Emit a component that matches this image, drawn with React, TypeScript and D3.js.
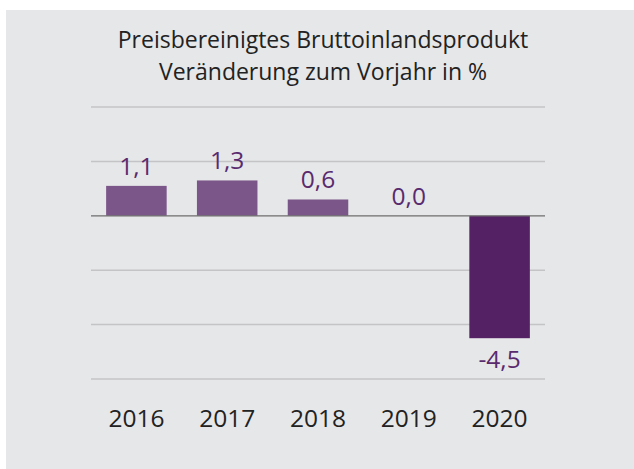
import React from "react";
import { scaleBand, scaleLinear } from "d3";

const years = ["2016", "2017", "2018", "2019", "2020"];
const changes = [1.1, 1.3, 0.6, 0.0, -4.5];
const gridValues = [4, 2, 0, -2, -4, -6];
const titleLines = ["Preisbereinigtes Bruttoinlandsprodukt", "Veränderung zum Vorjahr in %"];

const W = 634;
const H = 469;
const plot = { left: 91, right: 545, top: 107, bottom: 379 };
const font = "'Open Sans', 'Noto Sans', sans-serif";

const fmt = (v: number) => v.toFixed(1).replace(".", ",");

export default function App() {
	const x = scaleBand<string>()
		.domain(years)
		.range([plot.left, plot.right])
		.paddingInner(1 / 3)
		.paddingOuter(1 / 6);

	const y = scaleLinear().domain([-6, 4]).range([plot.bottom, plot.top]);

	return (
		<div style={{ position: "absolute", left: 0, top: 0 }}>
			<svg width={W} height={H} style={{ display: "block" }}>
				<rect x={0} y={0} width={W} height={H} fill="#ffffff" />
				<rect x={6} y={10} width={W - 6} height={H - 10} fill="#e6e7e9" />

				{titleLines.map((line, i) => (
					<text
						key={line}
						x={323}
						y={48 + i * 32}
						textAnchor="middle"
						fontFamily={font}
						fontSize={23}
						fill="#222222"
					>
						{line}
					</text>
				))}

				{gridValues.filter((v) => v !== 0).map((v) => (
					<line
						key={v}
						x1={plot.left}
						x2={plot.right}
						y1={y(v)}
						y2={y(v)}
						stroke="#c4c4c6"
						strokeWidth={1.5}
					/>
				))}

				{years.map((yr, i) => {
					const v = changes[i];
					const top = y(Math.max(0, v));
					const h = Math.abs(y(v) - y(0));
					const fill = v < 0 ? "#542264" : "#7b5689";
					const labelY = v < 0 ? y(v) + 30 : y(v) - 11;
					return (
						<g key={yr}>
							{h > 0 && (
								<rect x={x(yr)} y={top} width={x.bandwidth()} height={h} fill={fill} />
							)}
							<text
								x={(x(yr) ?? 0) + x.bandwidth() / 2}
								y={labelY}
								textAnchor="middle"
								fontFamily={font}
								fontSize={24.5}
								fill="#5a2a6e"
							>
								{fmt(v)}
							</text>
							<text
								x={(x(yr) ?? 0) + x.bandwidth() / 2}
								y={427}
								textAnchor="middle"
								fontFamily={font}
								fontSize={24.5}
								fill="#222222"
							>
								{yr}
							</text>
						</g>
					);
				})}

				<line x1={plot.left} x2={plot.right} y1={y(0)} y2={y(0)} stroke="#6e6e6e" strokeWidth={1.2} />
			</svg>
		</div>
	);
}
